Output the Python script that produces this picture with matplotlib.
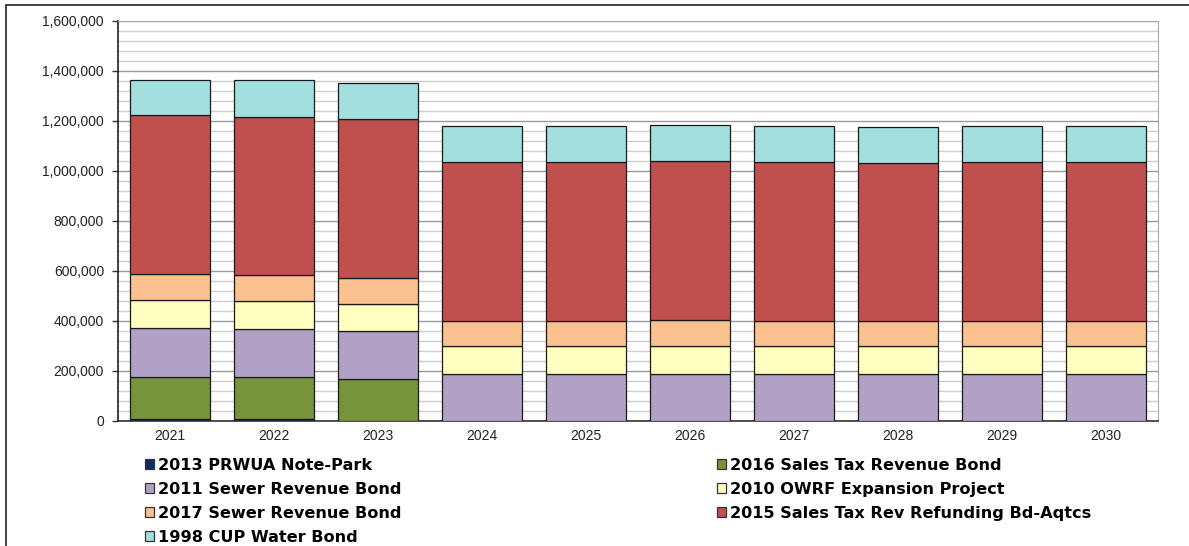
import matplotlib
matplotlib.use("Agg")
import matplotlib.pyplot as plt
from matplotlib.patches import Patch, Rectangle
from matplotlib.ticker import FuncFormatter, MultipleLocator
import numpy as np

years = ["2021", "2022", "2023", "2024", "2025", "2026", "2027", "2028", "2029", "2030"]

prwua_2013 = [8000, 8000, 0, 0, 0, 0, 0, 0, 0, 0]
sales_tax_2016 = [168000, 168000, 168000, 0, 0, 0, 0, 0, 0, 0]
sewer_2011 = [197000, 193000, 192000, 188000, 188000, 188000, 188000, 188000, 188000, 188000]
owrf_2010 = [110000, 113000, 109000, 113000, 113000, 113000, 113000, 113000, 113000, 113000]
sewer_2017 = [104000, 104000, 105000, 101000, 101000, 105000, 101000, 101000, 101000, 101000]
refunding_2015 = [636000, 632000, 635000, 636000, 636000, 636000, 636000, 632000, 636000, 636000]
cup_1998 = [143000, 147000, 144000, 143000, 143000, 143000, 143000, 141000, 143000, 143000]

series = [
    ("2013 PRWUA Note-Park", prwua_2013, "#0f2a66"),
    ("2016 Sales Tax Revenue Bond", sales_tax_2016, "#77933c"),
    ("2011 Sewer Revenue Bond", sewer_2011, "#b2a1c7"),
    ("2010 OWRF Expansion Project", owrf_2010, "#ffffc0"),
    ("2017 Sewer Revenue Bond", sewer_2017, "#fac090"),
    ("2015 Sales Tax Rev Refunding Bd-Aqtcs", refunding_2015, "#c0504d"),
    ("1998 CUP Water Bond", cup_1998, "#a3dfdf"),
]

W, H = 1189, 546
fig = plt.figure(figsize=(W / 100, H / 100), dpi=100)
fig.patch.set_facecolor("white")

ax = fig.add_axes([118 / W, 1 - 421 / H, (1158 - 118) / W, (421 - 21) / H])

x = np.arange(len(years))
bottom = np.zeros(len(years))
for name, vals, color in series:
    vals = np.array(vals, dtype=float)
    ax.bar(x, vals, width=0.77, bottom=bottom, color=color,
           edgecolor="#1a1a1a", linewidth=0.9, zorder=3)
    bottom += vals

ax.set_xlim(-0.5, len(years) - 0.5)
ax.set_ylim(0, 1600000)
ax.yaxis.set_major_locator(MultipleLocator(200000))
ax.yaxis.set_minor_locator(MultipleLocator(40000))
ax.yaxis.set_major_formatter(FuncFormatter(lambda v, p: f"{int(v):,}"))
ax.set_xticks(x)
ax.set_xticklabels(years)

ax.grid(axis="y", which="major", color="#9a9a9a", linewidth=1.0, zorder=0)
ax.grid(axis="y", which="minor", color="#cfcfcf", linewidth=1.0, zorder=0)
ax.set_axisbelow(True)

for lbl in ax.get_xticklabels() + ax.get_yticklabels():
    lbl.set_fontfamily("Liberation Sans")
    lbl.set_fontsize(10)
    lbl.set_color("#222222")

ax.tick_params(axis="y", which="major", length=4, width=1, color="#333333", pad=6)
ax.tick_params(axis="y", which="minor", length=0)
ax.tick_params(axis="x", length=0, pad=6)

ax.spines["left"].set_color("#222222")
ax.spines["left"].set_linewidth(1.2)
ax.spines["bottom"].set_color("#333333")
ax.spines["bottom"].set_linewidth(1.2)
ax.spines["top"].set_color("#aaaaaa")
ax.spines["right"].set_color("#aaaaaa")

# legend laid out in two columns, row by row
handles = [Patch(facecolor=c, edgecolor="#333333", linewidth=0.9) for _, _, c in series]
labels = [n for n, _, _ in series]
left_idx = [0, 2, 4, 6]
right_idx = [1, 3, 5]
leg_kw = dict(frameon=False, prop={"family": "DejaVu Sans", "weight": "bold", "size": 11.6},
              handlelength=0.56, handleheight=0.56, handletextpad=0.22,
              labelspacing=0.56, borderpad=0, borderaxespad=0, loc="upper left")
fig.legend([handles[i] for i in left_idx], [labels[i] for i in left_idx],
           bbox_to_anchor=(145 / W, 1 - 458 / H), **leg_kw)
fig.legend([handles[i] for i in right_idx], [labels[i] for i in right_idx],
           bbox_to_anchor=(717 / W, 1 - 458 / H), **leg_kw)

# outer chart frame
fig.add_artist(Rectangle((6 / W, -0.2), 1.5, 1.2 - 5 / H, transform=fig.transFigure,
                         fill=False, edgecolor="#333333", linewidth=1.3, clip_on=False))

fig.savefig("out.png", dpi=100, facecolor="white")
